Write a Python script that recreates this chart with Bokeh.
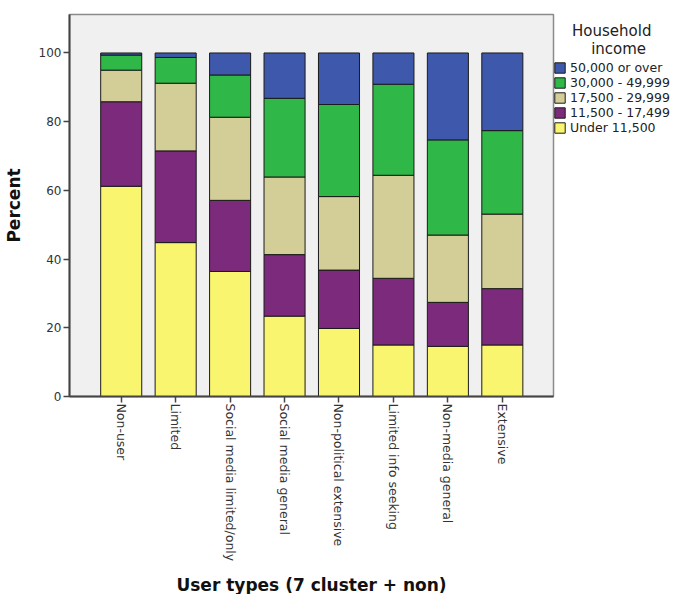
from bokeh.plotting import figure
from bokeh.models import (ColumnDataSource, Range1d, FixedTicker, Legend, LegendItem)
from bokeh.embed import file_html
from bokeh.resources import INLINE
import math

categories = ["Non-user", "Limited", "Social media limited/only", "Social media general",
              "Non-political extensive", "Limited info seeking", "Non-media general", "Extensive"]
series = ["Under 11,500", "11,500 - 17,499", "17,500 - 29,999", "30,000 - 49,999", "50,000 or over"]
under_11500 = [61.2, 44.8, 36.4, 23.4, 19.8, 15.0, 14.6, 15.0]
inc_11500_17499 = [24.6, 26.7, 20.7, 17.9, 17.0, 19.4, 12.8, 16.4]
inc_17500_29999 = [9.2, 19.7, 24.2, 22.6, 21.4, 30.0, 19.6, 21.7]
inc_30000_49999 = [4.4, 7.5, 12.3, 22.9, 26.8, 26.5, 27.7, 24.3]
inc_50000_over = [0.6, 1.3, 6.4, 13.2, 15.0, 9.1, 25.3, 22.6]
y_ticks = [0, 20, 40, 60, 80, 100]
colors = ["#FAF56F", "#7C2A7B", "#D3CE97", "#2FB848", "#3E58AC"]

keys = ["s0", "s1", "s2", "s3", "s4"]
data = dict(x=list(range(len(categories))), s0=under_11500, s1=inc_11500_17499,
            s2=inc_17500_29999, s3=inc_30000_49999, s4=inc_50000_over)
src = ColumnDataSource(data)

p = figure(frame_width=484, frame_height=382, output_backend="svg", toolbar_location=None,
           x_range=Range1d(-0.95, 7.94), y_range=Range1d(0, 111.2),
           min_border_left=68, min_border_right=0, min_border_top=14, min_border_bottom=180)
p.background_fill_color = "#F0F0F0"
p.border_fill_color = "white"
p.outline_line_color = "#8a8a8a"
p.outline_line_width = 1.5
p.xgrid.visible = False
p.ygrid.visible = False

renderers = p.vbar_stack(keys, x="x", width=0.754, source=src, fill_color=colors,
                         line_color="#1a1a1a", line_width=1)

for ax in (p.xaxis[0], p.yaxis[0]):
    ax.axis_line_color = "#444444"
    ax.axis_line_width = 2
    ax.major_tick_line_color = "#444444"
    ax.major_tick_line_width = 1.5
    ax.major_tick_out = 6
    ax.major_tick_in = 0
    ax.minor_tick_line_color = None
    ax.major_label_text_font = "DejaVu Sans"
    ax.major_label_text_color = "#333333"
    ax.axis_label_text_font = "DejaVu Sans"
    ax.axis_label_text_font_style = "bold"
    ax.axis_label_text_font_size = "17px"
    ax.axis_label_text_color = "#111111"

p.yaxis.major_label_text_font_size = "12px"
p.xaxis.major_label_text_font_size = "12.5px"

p.yaxis.ticker = FixedTicker(ticks=y_ticks)
p.yaxis.axis_label = "Percent"
p.yaxis.axis_label_standoff = 12
p.yaxis.major_label_standoff = 2

p.xaxis.ticker = FixedTicker(ticks=list(range(len(categories))))
p.xaxis.major_label_overrides = {i: c for i, c in enumerate(categories)}
p.xaxis.major_label_orientation = -math.pi / 2
p.xaxis.major_label_standoff = 1
p.xaxis.axis_label = "User types (7 cluster + non)"
p.xaxis.axis_label_standoff = 11

items = [LegendItem(label=series[i], renderers=[renderers[i]]) for i in reversed(range(5))]
legend = Legend(items=items, location=(0, 261), orientation="vertical",
                title="\u00a0\u00a0\u00a0\u00a0Household\n\u00a0\u00a0\u00a0\u00a0\u00a0\u00a0\u00a0\u00a0income",
                title_text_font="DejaVu Sans",
                title_text_font_size="15px", title_text_font_style="normal",
                title_text_line_height=1.05,
                title_text_color="#222222", title_standoff=2,
                border_line_color=None, background_fill_alpha=0,
                label_text_font="DejaVu Sans", label_text_font_size="12.5px",
                label_text_color="#222222",
                glyph_width=13, glyph_height=13, label_height=13, spacing=0,
                padding=2, margin=0, label_standoff=4)
p.add_layout(legend, "right")

open("out.html", "w").write(file_html(p, INLINE))
